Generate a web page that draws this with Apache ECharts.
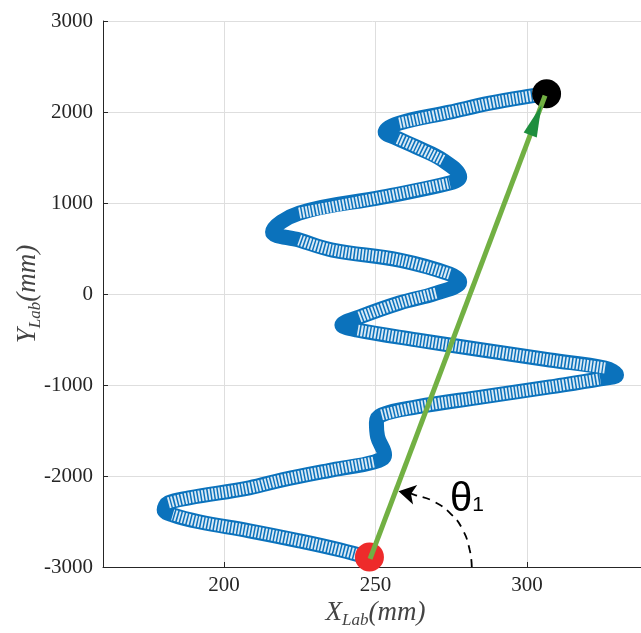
<!DOCTYPE html>
<html>
<head>
<meta charset="utf-8">
<script src="https://cdn.jsdelivr.net/npm/echarts@6/dist/echarts.min.js"></script>
<style>
html,body{margin:0;padding:0;background:#fff;}
#chart{width:641px;height:633px;}
</style>
</head>
<body>
<div id="chart"></div>
<script>
// ---- data ----
const xRange = [160, 340];
const xTickValues = [200, 250, 300];
const yRange = [-3000, 3000];
const yTickStep = 1000;

// trajectory centre-line (X_Lab mm, Y_Lab mm), from start to end
const pathX = [248.0, 238.1, 224.8, 208.3, 191.7, 183.0, 180.2, 181.6, 188.4, 208.3, 219.2, 235.8, 249.7, 253.0,
  250.7, 250.3, 252.0,
  263.6, 285.4, 307.6, 324.2, 329.6,
  325.8, 307.6, 285.4, 263.6, 243.7, 238.9,
  244.7, 257.9, 270.2, 277.8,
  274.5, 257.9, 235.8, 224.8, 216.0,
  224.8, 252.3, 274.5, 277.8,
  272.2, 263.6, 257.0, 253.2,
  257.9, 274.5, 287.7, 301.0, 306.0];
const pathY = [-2900, -2811, -2712, -2602, -2503, -2427, -2372, -2295, -2240, -2130, -2042, -1932, -1845, -1768,
  -1570, -1416, -1329,
  -1241, -1131, -1021, -933, -889,
  -813, -725, -615, -505, -395, -340,
  -253, -99, 11, 132,
  220, 373, 483, 593, 681,
  889, 1065, 1219, 1285,
  1471, 1614, 1713, 1779,
  1878, 1998, 2097, 2174, 2196];
// points of the trajectory where the rings bunch up into a solid band
const solidIdx = [6, 13, 14, 15, 21, 27, 31, 36, 40, 44];

const startPoint = [248.0, -2890];
const endPoint = [306.5, 2200];
const vectorFrom = [248.2, -2910];
const vectorTo = [306.0, 2180];

// dashed angle arc annotation
const arcX = [281.8, 281.1, 278.8, 275.2, 269.5, 262.9, 259.0];
const arcY = [-3000, -2811, -2591, -2427, -2284, -2207, -2175];
const arcHead = [257.6, -2168];
// ---------------------------------------

const pathData = pathX.map((x, i) => [x, pathY[i]]);
const ringData = pathX.map((x, i) => solidIdx.includes(i) ? [x, null] : [x, pathY[i]]);
const arcData = arcX.map((x, i) => [x, arcY[i]]);

const chart = echarts.init(document.getElementById('chart'), null, {renderer: 'canvas'});
const serif = 'Liberation Serif';
const axisColor = '#262626';
const gridColor = '#dedede';

const nameRich = {
  i: {fontFamily: serif, fontStyle: 'italic', fontSize: 27, color: '#444', lineHeight: 32},
  s: {fontFamily: serif, fontStyle: 'italic', fontSize: 17, color: '#444', lineHeight: 32, padding: [10, 0, 0, 0], verticalAlign: 'bottom'}
};

const option = {
  backgroundColor: '#ffffff',
  animation: false,
  grid: {left: 103, right: -7, top: 21, bottom: 66, outerBoundsMode: 'none', containLabel: false},
  xAxis: {
    type: 'value', min: xRange[0], max: xRange[1],
    name: '{i|X}{s|Lab}{i|(mm)}', nameLocation: 'middle', nameGap: 30, nameMoveOverlap: false,
    nameTextStyle: {rich: nameRich},
    axisLine: {show: true, onZero: false, lineStyle: {color: axisColor, width: 1}},
    axisTick: {show: true, inside: true, length: 5, customValues: xTickValues, lineStyle: {color: axisColor}},
    axisLabel: {customValues: xTickValues, fontFamily: serif, fontSize: 21, color: axisColor, margin: 8,
      formatter: v => String(v)},
    splitLine: {show: true, customValues: xTickValues, lineStyle: {color: gridColor, width: 1}}
  },
  yAxis: {
    type: 'value', min: yRange[0], max: yRange[1], interval: yTickStep,
    name: '{i|Y}{s|Lab}{i|(mm)}', nameLocation: 'middle', nameGap: 59, nameRotate: 90, nameMoveOverlap: false,
    nameTextStyle: {rich: nameRich},
    axisLine: {show: true, onZero: false, lineStyle: {color: axisColor, width: 1}},
    axisTick: {show: true, inside: true, length: 5, lineStyle: {color: axisColor}},
    axisLabel: {fontFamily: serif, fontSize: 21, color: axisColor, margin: 10,
      formatter: v => String(v)},
    splitLine: {show: true, lineStyle: {color: gridColor, width: 1}}
  },
  series: [
    {
      name: 'trajectory', type: 'line', data: pathData, smooth: 0.4, symbol: 'none', z: 2,
      lineStyle: {color: '#0b72bc', width: 15, cap: 'round', join: 'round'}
    },
    {
      name: 'trajectory-rings', type: 'line', data: ringData, smooth: 0.4, symbol: 'none', z: 3,
      connectNulls: false,
      lineStyle: {color: '#ffffff', width: 11, type: [1.9, 1.5], cap: 'butt', opacity: 0.85}
    },
    {
      name: 'start', type: 'scatter', data: [startPoint], symbol: 'circle', symbolSize: 29, z: 4,
      itemStyle: {color: '#ee2b2b', opacity: 1}
    },
    {
      name: 'end', type: 'scatter', data: [endPoint], symbol: 'circle', symbolSize: 29, z: 4,
      itemStyle: {color: '#000000', opacity: 1}
    },
    {
      name: 'vector', type: 'line', data: [vectorFrom, vectorTo], symbol: 'none', z: 5,
      lineStyle: {color: '#72b043', width: 5, cap: 'butt'}
    },
    {
      name: 'arc', type: 'line', data: arcData, smooth: 0.5, symbol: 'none', z: 5,
      lineStyle: {color: '#000', width: 1.8, type: [8, 6]}
    },
    {
      name: 'arcHead', type: 'scatter', data: [arcHead], symbol: 'arrow', symbolSize: [15, 17], symbolRotate: 78, z: 6,
      itemStyle: {color: '#000', opacity: 1}
    },
    {
      name: 'vectorHead', type: 'scatter', data: [vectorTo], symbol: 'path://M0,0 L6,28 L-6,28 Z',
      symbolSize: [14, 32], symbolKeepAspect: false, z: 6,
      itemStyle: {color: '#1e8e3e', opacity: 1}
    }
  ],
  graphic: [
    {
      type: 'text', left: 450, top: 480, z: 10,
      style: {
        text: '{t|θ}{s|1}',
        rich: {
          t: {fontFamily: 'Liberation Sans', fontSize: 40, color: '#111', lineHeight: 44},
          s: {fontFamily: 'Liberation Sans', fontSize: 21, color: '#111', lineHeight: 44, verticalAlign: 'bottom', padding: [0, 0, 6, 0]}
        }
      }
    }
  ]
};
chart.setOption(option);

// orient the vector arrow head along the vector, tip slightly behind vectorTo
const p0 = chart.convertToPixel({gridIndex: 0}, vectorFrom);
const p1 = chart.convertToPixel({gridIndex: 0}, vectorTo);
const dx = p1[0] - p0[0], dy = p1[1] - p0[1];
const len = Math.sqrt(dx * dx + dy * dy);
const ux = dx / len, uy = dy / len;
const headLen = 32, tipBack = 10;
const cx = p1[0] - ux * (tipBack + headLen / 2), cy = p1[1] - uy * (tipBack + headLen / 2);
const headCenter = chart.convertFromPixel({gridIndex: 0}, [cx, cy]);
const rot = -Math.atan2(dx, -dy) * 180 / Math.PI;
chart.setOption({series: [{}, {}, {}, {}, {}, {}, {}, {data: [headCenter], symbolRotate: rot}]});
</script>
</body>
</html>
